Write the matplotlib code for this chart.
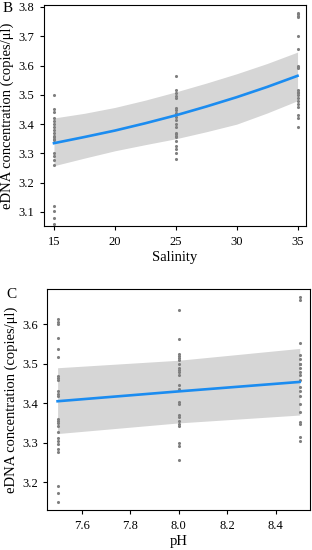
import matplotlib
matplotlib.use("Agg")
import matplotlib.pyplot as plt

plt.rcParams['font.family'] = ['Liberation Serif', 'DejaVu Serif']

# panel B: salinity
sal_x = [15] * 21 + [25] * 21 + [35] * 20
sal_y = [3.50, 3.45, 3.44, 3.42, 3.41, 3.40, 3.39, 3.38, 3.37, 3.355, 3.346,
         3.30, 3.29, 3.277, 3.26, 3.12, 3.104, 3.079, 3.06, 3.36, 3.35,
         3.563, 3.515, 3.505, 3.497, 3.49, 3.456, 3.447, 3.438, 3.425, 3.414,
         3.40, 3.39, 3.37, 3.368, 3.357, 3.344, 3.327, 3.315, 3.30, 3.28, 3.36,
         3.78, 3.775, 3.77, 3.765, 3.70, 3.658, 3.60, 3.59, 3.517, 3.51,
         3.50, 3.49, 3.48, 3.47, 3.46, 3.43, 3.42, 3.39, 3.595, 3.505]
sal_fit_x = [15, 17.5, 20, 22.5, 25, 27.5, 30, 32.5, 35]
sal_fit = [3.335, 3.356, 3.378, 3.403, 3.430, 3.460, 3.492, 3.527, 3.565]
sal_lo = [3.258, 3.284, 3.309, 3.330, 3.350, 3.374, 3.400, 3.438, 3.480]
sal_hi = [3.421, 3.437, 3.457, 3.482, 3.510, 3.540, 3.572, 3.607, 3.646]

# panel C: pH
ph_x = [7.5] * 25 + [8.0] * 23 + [8.5] * 20
ph_y = [3.613, 3.607, 3.60, 3.565, 3.538, 3.518, 3.47, 3.465, 3.459, 3.43,
        3.424, 3.418, 3.359, 3.354, 3.349, 3.342, 3.328, 3.311, 3.304, 3.296,
        3.285, 3.276, 3.19, 3.172, 3.15,
        3.636, 3.563, 3.525, 3.52, 3.515, 3.51, 3.50, 3.49, 3.484,
        3.478, 3.472, 3.446, 3.436, 3.403, 3.397, 3.37, 3.365, 3.354, 3.348,
        3.342, 3.298, 3.291, 3.257,
        3.67, 3.663, 3.553, 3.522, 3.513, 3.50, 3.49, 3.48, 3.472, 3.46,
        3.441, 3.43, 3.418, 3.397, 3.378, 3.352, 3.348, 3.313, 3.305, 3.50]
ph_fit_x = [7.5, 8.0, 8.5]
ph_fit = [3.405, 3.430, 3.454]
ph_lo = [3.323, 3.350, 3.370]
ph_hi = [3.490, 3.509, 3.539]

ylab = 'eDNA concentration (copies/μl)'
blue = '#1b8cf0'
band = '#d6d6d6'
pts = '#7f7f7f'

fig = plt.figure(figsize=(3.12, 5.5), dpi=100)

def panel(ax, x, y, fx, fy, lo, hi):
    ax.fill_between(fx, lo, hi, color=band, lw=0, zorder=1)
    ax.scatter(x, y, s=5, color=pts, lw=0, zorder=2)
    ax.plot(fx, fy, color=blue, lw=1.9, zorder=3)
    ax.tick_params(labelsize=9, length=3, width=0.8, direction='out', pad=4)
    for s in ax.spines.values():
        s.set_linewidth(0.8)
    ax.set_ylabel(ylab, fontsize=10.5, labelpad=3)

ax1 = fig.add_axes([0.141, 0.589, 0.840, 0.402])
panel(ax1, sal_x, sal_y, sal_fit_x, sal_fit, sal_lo, sal_hi)
ax1.set_xlim(14.18, 35.7)
ax1.set_ylim(3.052, 3.807)
ax1.set_xticks([15, 20, 25, 30, 35])
ax1.set_yticks([3.1, 3.2, 3.3, 3.4, 3.5, 3.6, 3.7, 3.8])
ax1.set_xlabel('Salinity', fontsize=10.5, labelpad=2)

ax2 = fig.add_axes([0.152, 0.0727, 0.842, 0.402])
panel(ax2, ph_x, ph_y, ph_fit_x, ph_fit, ph_lo, ph_hi)
ax2.set_xlim(7.458, 8.543)
ax2.set_ylim(3.129, 3.69)
ax2.set_xticks([7.6, 7.8, 8.0, 8.2, 8.4])
ax2.set_xticklabels(['7.6', '7.8', '8.0', '8.2', '8.4'])
ax2.set_yticks([3.2, 3.3, 3.4, 3.5, 3.6])
ax2.set_xlabel('pH', fontsize=10.5, labelpad=2)

fig.text(8 / 312, 1 - 9 / 550, 'B', fontsize=11, ha='center', va='center')
fig.text(11 / 312, 1 - 295 / 550, 'C', fontsize=11, ha='center', va='center')

fig.savefig('out.png', dpi=100)
